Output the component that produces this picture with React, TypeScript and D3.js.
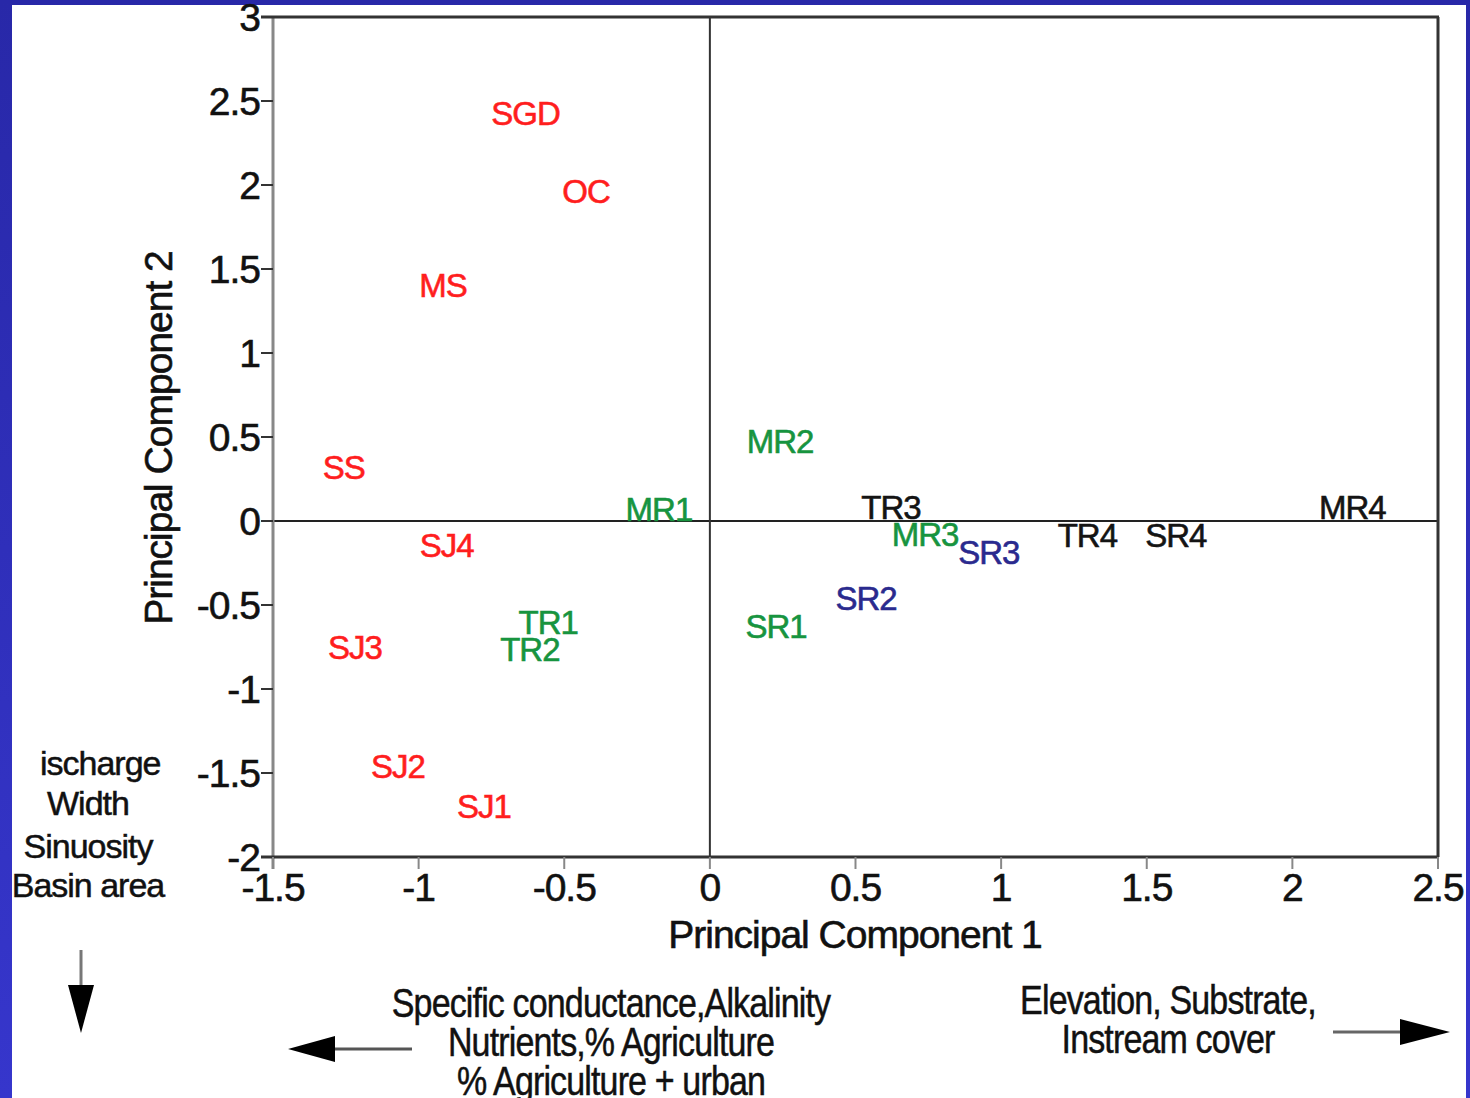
import React from "react";
import * as d3 from "d3";

const siteNames = ["SGD", "OC", "MS", "SS", "SJ4", "SJ3", "SJ2", "SJ1", "MR1", "TR1", "TR2", "MR2", "SR1", "TR3", "MR3", "SR3", "SR2", "TR4", "SR4", "MR4"];
const pc1 = [-0.633, -0.425, -0.916, -1.257, -0.904, -1.219, -1.071, -0.776, -0.175, -0.555, -0.618, 0.241, 0.227, 0.622, 0.739, 0.958, 0.536, 1.296, 1.6, 2.206];
const pc2 = [2.427, 1.965, 1.405, 0.318, -0.143, -0.753, -1.457, -1.695, 0.071, -0.599, -0.762, 0.476, -0.625, 0.08, -0.077, -0.188, -0.458, -0.083, -0.083, 0.08];
const siteGroup = ["red", "red", "red", "red", "red", "red", "red", "red", "green", "green", "green", "green", "green", "black", "green", "blue", "blue", "black", "black", "black"];

const xTicks = [-1.5, -1, -0.5, 0, 0.5, 1, 1.5, 2, 2.5];
const yTicks = [-2, -1.5, -1, -0.5, 0, 0.5, 1, 1.5, 2, 2.5, 3];
const xTitle = "Principal Component 1";
const yTitle = "Principal Component 2";
const leftNotes = ["ischarge", "Width", "Sinuosity", "Basin area"];
const bottomLeftNotes = ["Specific conductance,Alkalinity", "Nutrients,% Agriculture", "% Agriculture + urban"];
const bottomRightNotes = ["Elevation, Substrate,", "Instream cover"];

const groupColor: Record<string, string> = {
  red: "#ff1e1e",
  green: "#17943f",
  blue: "#2a2a8e",
  black: "#141414",
};

const FONT = "'Liberation Sans', Arial, Helvetica, sans-serif";
const INK = "#111";

export default function App() {
  const W = 1470;
  const H = 1098;
  const left = 273, right = 1438, top = 17, bottom = 857;
  const x = d3.scaleLinear().domain([-1.5, 2.5]).range([left, right]);
  const y = d3.scaleLinear().domain([-2, 3]).range([bottom, top]);

  return (
    <svg width={W} height={H} style={{ position: "absolute", left: 0, top: 0, display: "block" }} fontFamily={FONT}>
      <defs>
        <linearGradient id="bg" x1="0" y1="0" x2="0" y2="1">
          <stop offset="0" stopColor="#2828a8" />
          <stop offset="1" stopColor="#3636cc" />
        </linearGradient>
      </defs>
      <rect x={0} y={0} width={W} height={H} fill="url(#bg)" />
      <rect x={12} y={5} width={1454} height={H} fill="#ffffff" />

      {/* zero lines */}
      <line x1={left} x2={right} y1={y(0)} y2={y(0)} stroke="#222" strokeWidth={2} />
      <line x1={x(0)} x2={x(0)} y1={top} y2={bottom} stroke="#333" strokeWidth={2} />

      {/* frame */}
      <line x1={left} x2={left} y1={top} y2={bottom + 12} stroke="#888" strokeWidth={3} />
      <line x1={left - 12} x2={right + 1} y1={top} y2={top} stroke="#333" strokeWidth={3} />
      <line x1={right} x2={right} y1={top} y2={bottom} stroke="#333" strokeWidth={3} />
      <line x1={left - 12} x2={right + 1} y1={bottom} y2={bottom} stroke="#333" strokeWidth={3} />

      {/* y ticks */}
      {yTicks.map((t) => (
        <g key={"y" + t}>
          <line x1={left - 12} x2={left} y1={y(t)} y2={y(t)} stroke="#333" strokeWidth={2} />
          <text x={left - 13} y={y(t)} dy="0.36em" textAnchor="end" fontSize={39} letterSpacing={-1} fill={INK} stroke={INK} strokeWidth={0.6}>
            {String(t)}
          </text>
        </g>
      ))}

      {/* x ticks */}
      {xTicks.map((t) => (
        <g key={"x" + t}>
          <line x1={x(t)} x2={x(t)} y1={bottom} y2={bottom + 12} stroke="#888" strokeWidth={2} />
          <text x={x(t)} y={bottom + 44} textAnchor="middle" fontSize={39} letterSpacing={-1} fill={INK} stroke={INK} strokeWidth={0.6}>
            {String(t)}
          </text>
        </g>
      ))}

      {/* axis titles */}
      <text x={855} y={948} textAnchor="middle" fontSize={39} letterSpacing={-1} fill={INK} stroke={INK} strokeWidth={0.6}>{xTitle}</text>
      <text transform={`translate(172,438) rotate(-90)`} textAnchor="middle" fontSize={39} letterSpacing={-1} fill={INK} stroke={INK} strokeWidth={0.6}>{yTitle}</text>

      {/* site labels */}
      {siteNames.map((name, i) => (
        <text
          key={name}
          x={x(pc1[i])}
          y={y(pc2[i])}
          dy="0.36em"
          textAnchor="middle"
          fontSize={33}
          letterSpacing={-1}
          fill={groupColor[siteGroup[i]]}
          stroke={groupColor[siteGroup[i]]}
          strokeWidth={0.6}
        >
          {name}
        </text>
      ))}

      {/* left notes */}
      <text x={40} y={775} fontSize={34} letterSpacing={-1} fill={INK} stroke={INK} strokeWidth={0.5}>{leftNotes[0]}</text>
      {leftNotes.slice(1).map((s, i) => (
        <text key={s} x={88} y={[815, 858, 897][i]} textAnchor="middle" fontSize={34} letterSpacing={-1} fill={INK} stroke={INK} strokeWidth={0.5}>{s}</text>
      ))}

      {/* down arrow */}
      <line x1={81} x2={81} y1={950} y2={990} stroke="#777" strokeWidth={3} />
      <path d="M68,985 L94,985 L81,1033 Z" fill="#000" />

      {/* bottom-left notes */}
      <g transform="translate(611,0) scale(0.85,1)">
        {bottomLeftNotes.map((s, i) => (
          <text key={s} x={0} y={1017 + i * 39} textAnchor="middle" fontSize={40} letterSpacing={-1} fill={INK} stroke={INK} strokeWidth={0.5}>{s}</text>
        ))}
      </g>
      <line x1={412} x2={328} y1={1049} y2={1049} stroke="#555" strokeWidth={3} />
      <path d="M288,1049 L335,1036 L335,1062 Z" fill="#000" />

      {/* bottom-right notes */}
      <g transform="translate(1168,0) scale(0.85,1)">
        {bottomRightNotes.map((s, i) => (
          <text key={s} x={0} y={1014 + i * 39} textAnchor="middle" fontSize={40} letterSpacing={-1} fill={INK} stroke={INK} strokeWidth={0.5}>{s}</text>
        ))}
      </g>
      <line x1={1333} x2={1405} y1={1032} y2={1032} stroke="#666" strokeWidth={3} />
      <path d="M1450,1032 L1400,1019 L1400,1045 Z" fill="#000" />
    </svg>
  );
}
